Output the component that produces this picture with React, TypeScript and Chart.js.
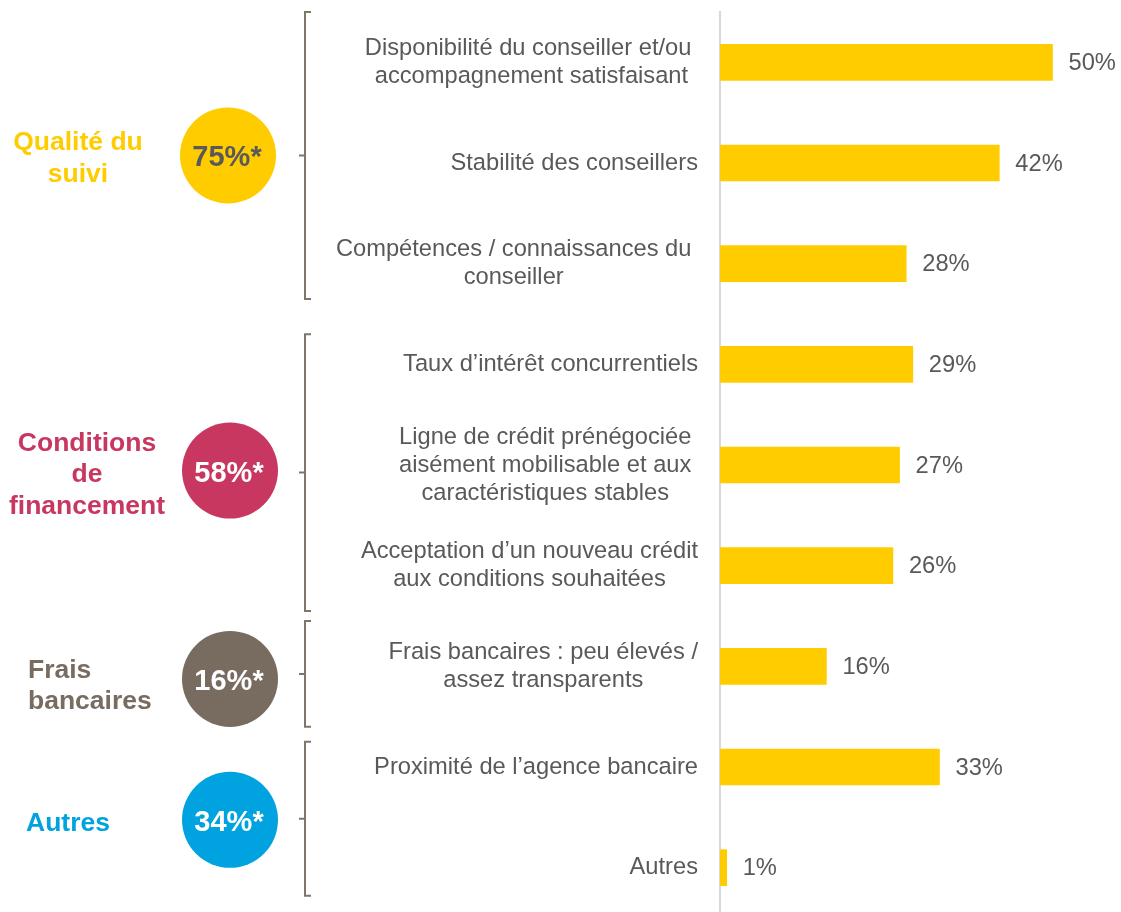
import React, { useEffect, useRef } from "react";
import { Chart, registerables } from "chart.js";

Chart.register(...registerables);

// ---------- data ----------
const categories: string[][] = [
  ["Disponibilité du conseiller et/ou ", "accompagnement satisfaisant"],
  ["Stabilité des conseillers"],
  ["Compétences / connaissances du ", "conseiller "],
  ["Taux d’intérêt concurrentiels"],
  ["Ligne de crédit prénégociée ", "aisément mobilisable et aux ", "caractéristiques stables "],
  ["Acceptation d’un nouveau crédit", "aux conditions souhaitées"],
  ["Frais bancaires : peu élevés /", "assez transparents"],
  ["Proximité de l’agence bancaire"],
  ["Autres"],
];
const values: number[] = [50, 42, 28, 29, 27, 26, 16, 33, 1];

const groupNames: string[][] = [
  ["Qualité du", "suivi"],
  ["Conditions", "de", "financement"],
  ["Frais", "bancaires"],
  ["Autres"],
];
const groupTotals: string[] = ["75%*", "58%*", "16%*", "34%*"];
const groupFirst: number[] = [0, 3, 6, 7];
const groupLast: number[] = [2, 5, 6, 8];

// ---------- styles / layout ----------
const FONT = "'Liberation Sans', Arial, Helvetica, sans-serif";
const TEXT = "#595959";
const BAR = "#FFCC00";
const groupColors = ["#FFCC00", "#C7375F", "#786C61", "#00A3E0"];
const groupCircleText = ["#595959", "#FFFFFF", "#FFFFFF", "#FFFFFF"];
const bracketTop = [-0.5, -0.3, -0.45, -0.25];
const bracketBottom = [0.35, 0.45, 0.6, 0.28];
const groupLabelX = [78, 87, 28, 26];
const groupLabelAlign: CanvasTextAlign[] = ["center", "center", "left", "left"];
const groupLabelDy = [-5, -22, 4, 12];
const circleX = [228, 230, 230, 230];
const circleDy = [0, -2, 5, 1];
const BRACKET_X = 305;
const BRACKET_COLOR = "#7F756B";
const LABEL_SIZE = 23.7;
const LINE_H = 28;

const overlayPlugin = {
  id: "overlay",
  afterDraw(chart: any) {
    const ctx: CanvasRenderingContext2D = chart.ctx;
    const ys = chart.scales.y;
    const xs = chart.scales.x;
    const area = chart.chartArea;
    ctx.save();

    // category labels
    ctx.font = `${LABEL_SIZE}px ${FONT}`;
    ctx.fillStyle = TEXT;
    ctx.textBaseline = "middle";
    ctx.textAlign = "center";
    const labelRight = area.left - 22;
    categories.forEach((lines, i) => {
      const cy = ys.getPixelForValue(i);
      const widest = Math.max(...lines.map((l) => ctx.measureText(l).width));
      const cx = labelRight - widest / 2;
      lines.forEach((l, j) => {
        ctx.fillText(l, cx, cy + (j - (lines.length - 1) / 2) * LINE_H);
      });
    });

    // value labels
    ctx.textAlign = "left";
    values.forEach((v, i) => {
      ctx.fillText(`${v}%`, xs.getPixelForValue(v) + 16, ys.getPixelForValue(i) + 1);
    });

    // groups
    groupNames.forEach((names, g) => {
      const top = ys.getPixelForValue(groupFirst[g] + bracketTop[g]);
      const bottom = ys.getPixelForValue(groupLast[g] + bracketBottom[g]);
      const mid = (top + bottom) / 2;

      // bracket
      ctx.strokeStyle = BRACKET_COLOR;
      ctx.lineWidth = 2;
      ctx.beginPath();
      ctx.moveTo(BRACKET_X + 6, top);
      ctx.lineTo(BRACKET_X, top);
      ctx.lineTo(BRACKET_X, bottom);
      ctx.lineTo(BRACKET_X + 6, bottom);
      ctx.moveTo(BRACKET_X, mid);
      ctx.lineTo(BRACKET_X - 6, mid);
      ctx.stroke();

      // circle
      const cy = mid + circleDy[g];
      ctx.fillStyle = groupColors[g];
      ctx.beginPath();
      ctx.arc(circleX[g], cy, 48, 0, Math.PI * 2);
      ctx.fill();
      ctx.fillStyle = groupCircleText[g];
      ctx.font = `bold 29px ${FONT}`;
      ctx.textAlign = "center";
      ctx.textBaseline = "alphabetic";
      ctx.fillText(groupTotals[g], circleX[g] - 1, cy + 11);

      // group label
      ctx.fillStyle = groupColors[g];
      ctx.font = `bold 26.5px ${FONT}`;
      ctx.textAlign = groupLabelAlign[g];
      names.forEach((n, j) => {
        ctx.fillText(n, groupLabelX[g], mid + groupLabelDy[g] + j * 31.5);
      });
    });

    ctx.restore();
  },
};

export default function App() {
  const ref = useRef<HTMLCanvasElement | null>(null);
  useEffect(() => {
    if (!ref.current) return;
    const chart = new Chart(ref.current, {
      type: "bar",
      data: {
        labels: categories.map((c) => c.join(" ").trim()),
        datasets: [
          {
            data: values,
            backgroundColor: BAR,
            borderWidth: 0,
            barThickness: 36,
          },
        ],
      },
      options: {
        indexAxis: "y",
        animation: false,
        responsive: false,
        maintainAspectRatio: false,
        layout: { padding: { top: 12, right: 0, bottom: 0, left: 0 } },
        plugins: { legend: { display: false }, tooltip: { enabled: false } },
        scales: {
          x: { display: false, min: 0, max: 60.3 },
          y: {
            display: true,
            ticks: { display: false },
            grid: { display: false },
            border: { display: true, color: "#D9D9D9", width: 2 },
            afterFit: (scale: any) => {
              scale.width = 720;
            },
          },
        },
      },
      plugins: [overlayPlugin],
    });
    return () => chart.destroy();
  }, []);
  return (
    <div
      style={{
        position: "absolute",
        left: 0,
        top: 0,
        width: 1121,
        height: 912,
        overflow: "hidden",
        background: "#fff",
      }}
    >
      <canvas ref={ref} width={1121} height={918} style={{ display: "block" }} />
    </div>
  );
}
